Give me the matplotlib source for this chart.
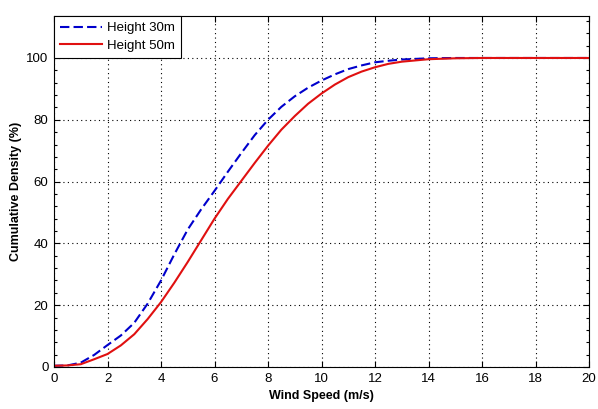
import matplotlib
matplotlib.use("Agg")
import matplotlib.pyplot as plt
from matplotlib.ticker import MultipleLocator

# wind speed (m/s)
wind_speed = [0, 0.5, 1, 1.5, 2, 2.5, 3, 3.5, 4, 4.5, 5, 5.5, 6, 6.5, 7, 7.5,
              8, 8.5, 9, 9.5, 10, 10.5, 11, 11.5, 12, 12.5, 13, 14, 15, 16,
              17, 18, 19, 20]

# cumulative density (%) for each height
cdf_30m = [0.4, 0.5, 1.4, 3.9, 7.1, 10.2, 14.3, 20.5, 28.0, 36.5, 44.5, 51.0,
           57.0, 63.2, 69.2, 75.0, 80.0, 84.2, 87.6, 90.4, 92.7, 94.7, 96.4,
           97.6, 98.6, 99.1, 99.5, 99.9, 100, 100, 100, 100, 100, 100]
cdf_50m = [0.4, 0.5, 0.9, 2.5, 4.2, 7.0, 10.6, 15.5, 21.0, 27.3, 34.0, 41.0,
           48.0, 54.4, 60.2, 66.0, 71.6, 76.8, 81.2, 85.2, 88.5, 91.4, 93.8,
           95.6, 97.0, 98.1, 98.8, 99.6, 99.9, 100, 100, 100, 100, 100]

series_labels = ["Height 30m", "Height 50m"]

plt.rcParams['font.family'] = ['Liberation Sans', 'DejaVu Sans']

fig = plt.figure(figsize=(5.98, 4.09), dpi=100)
ax = fig.add_axes([0.0903, 0.1027, 0.8947, 0.8583])

ax.plot(wind_speed, cdf_30m, color='#0000cc', linestyle='--', dashes=(4.5, 2),
        linewidth=1.5, label=series_labels[0])
ax.plot(wind_speed, cdf_50m, color='#e01010', linewidth=1.5,
        label=series_labels[1])

ax.set_xlim(0, 20)
ax.set_ylim(0, 113.6)
ax.xaxis.set_major_locator(MultipleLocator(2))
ax.yaxis.set_major_locator(MultipleLocator(20))
ax.yaxis.set_minor_locator(MultipleLocator(4))
ax.tick_params(which='both', direction='in', top=True, right=True,
               labelsize=9.5, width=0.8)
ax.tick_params(which='major', length=4, pad=4)
ax.tick_params(which='minor', length=2.5)
ax.grid(True, which='major', color='black', linestyle=(0, (1, 3)), linewidth=0.8)
for sp in ax.spines.values():
    sp.set_linewidth(0.8)

ax.set_xlabel('Wind Speed (m/s)', fontsize=9, fontweight='bold', labelpad=4)
ax.set_ylabel('Cumulative Density (%)', fontsize=9, fontweight='bold', labelpad=3)

leg = ax.legend(loc='upper left', bbox_to_anchor=(0, 1), borderaxespad=0,
                fontsize=9.5, fancybox=False, framealpha=1, edgecolor='black',
                handlelength=3.2, handletextpad=0.4, labelspacing=0.4,
                borderpad=0.45)
leg.get_frame().set_linewidth(0.8)

fig.savefig('out.png', dpi=100)
